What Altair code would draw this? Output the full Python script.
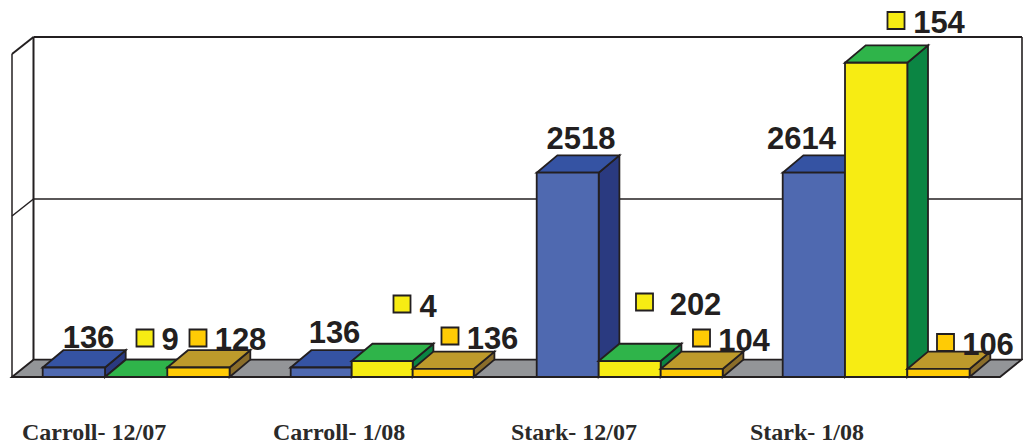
import altair as alt
import pandas as pd

# ---- chart content ----
groups = ["Carroll- 12/07", "Carroll- 1/08", "Stark- 12/07", "Stark- 1/08"]
series_names = ["blue", "yellow", "orange"]
# drawn bar heights (gridline = 1000 on the value axis)
blue_heights = [59, 59, 1269, 1269]
yellow_heights = [0, 99, 99, 1952]
orange_heights = [59, 50, 50, 50]
blue_labels = ["136", "136", "2518", "2614"]
yellow_labels = ["9", "4", "202", "154"]
orange_labels = ["128", "136", "104", "106"]

# ---- colours: front, top, side ----
palette = {
    "blue": ("#4f69b0", "#3553a3", "#2a3a80"),
    "yellow": ("#f7ec13", "#2fb44a", "#0b8543"),
    "orange": ("#ffcb05", "#bd9a2b", "#8a6d2a"),
}
INK = "#231f20"
FLOOR = "#939598"

# ---- layout ----
W, H = 1015, 436
STEP = 246.67                    # pixels per group unit
PX_PER_VALUE = 0.161
ZERO_PAGE_Y = 377


def ux(page_x):
    return (page_x - 8) / STEP


def uy(page_y):
    return (ZERO_PAGE_Y - page_y) / PX_PER_VALUE


group_left = [42.7, 290.7, 536.7, 782.7]
group_bar_w = [62.3, 61.0, 62.0, 62.3]
DEPTH_X = 20.7 / STEP
DEPTH_Y = 17.3 / PX_PER_VALUE

polys = []


def add(pid, fill, points):
    for x, y, y2 in points:
        polys.append(dict(pid=pid, fill=fill, x=x, y=y, y2=y2))


def add_flat(pid, fill, x0, x1, base, dx, dy):
    """Horizontal parallelogram, front edge x0..x1 at value base."""
    t = base + dy
    add(pid, fill, [(x0, base, base), (x0 + dx, t, base), (x1, t, base), (x1 + dx, t, t)])


# floor
add_flat("floor", FLOOR, ux(12), ux(1000), 0, ux(33.5) - ux(12), DEPTH_Y)

pid = 0
for s, heights in enumerate([blue_heights, yellow_heights, orange_heights]):
    front, top, side = palette[series_names[s]]
    for g, h in enumerate(heights):
        bar_w = group_bar_w[g] / STEP
        x0 = ux(group_left[g]) + s * bar_w
        x1 = x0 + bar_w
        # side
        add(f"p{pid:03d}a", side, [(x1, h, 0), (x1 + DEPTH_X, h + DEPTH_Y, DEPTH_Y)])
        # top
        add_flat(f"p{pid:03d}b", top, x0, x1, h, DEPTH_X, DEPTH_Y)
        # front
        if h > 0:
            add(f"p{pid:03d}c", front, [(x0, h, 0), (x1, h, 0)])
        pid += 1

poly_df = pd.DataFrame(polys)

# wall lines: x, y, x2, y2 (page pixels converted to chart units), width
wall = [
    (33.5, 37, 1022, 37, 2.2),
    (33.5, 37, 33.5, 360, 2.0),
    (1022, 37, 1022, 360, 1.6),
    (12, 54, 12, 377, 1.5),
    (12, 54, 33.5, 37, 2.0),
    (33.5, 199, 1022, 199, 1.6),
    (12, 216, 33.5, 199, 1.5),
]
wall_df = pd.DataFrame(
    [dict(x=ux(a), y=uy(b), x2=ux(c), y2=uy(d), w=e) for a, b, c, d, e in wall]
)

# value labels: text, centre x, baseline y (page pixels)
blue_pos = [(88.5, 348), (334.5, 343), (581, 149), (801.5, 149)]
yellow_pos = [(170, 350), (428, 317), (695.5, 315), (939, 33)]
orange_pos = [(240.5, 350), (492.5, 349), (744, 351), (988, 355)]
label_df = pd.DataFrame(
    [
        dict(t=t, x=ux(p[0]), y=uy(p[1]))
        for ts, ps in [
            (blue_labels, blue_pos),
            (yellow_labels, yellow_pos),
            (orange_labels, orange_pos),
        ]
        for t, p in zip(ts, ps)
    ]
)

# legend-key style swatches: centre x, centre y
yellow_keys = [(145, 338), (402, 304), (644.5, 302), (896, 20.5)]
orange_keys = [(198, 338), (450, 336), (701.5, 338), (945.5, 342.5)]
key_df = pd.DataFrame(
    [dict(x=ux(a), y=uy(b), fill=palette["yellow"][0]) for a, b in yellow_keys]
    + [dict(x=ux(a), y=uy(b), fill=palette["orange"][0]) for a, b in orange_keys]
)

# category labels: left x, baseline y
cat_x = [22, 273, 511, 750]
cat_df = pd.DataFrame([dict(t=t, x=ux(a), y=uy(440)) for t, a in zip(groups, cat_x)])

xs = alt.Scale(domain=[0, W / STEP], range=[0, W], nice=False, zero=False)
ys = alt.Scale(domain=[uy(8 + H), uy(8)], range=[H, 0], nice=False, zero=False)
X = alt.X("x:Q", scale=xs, axis=None)
Y = alt.Y("y:Q", scale=ys, axis=None)

walls = (
    alt.Chart(wall_df)
    .mark_rule(color=INK)
    .encode(X, Y, x2="x2:Q", y2="y2:Q", strokeWidth=alt.StrokeWidth("w:Q", scale=None))
)
faces = (
    alt.Chart(poly_df)
    .mark_area(stroke=INK, strokeWidth=1.8, opacity=1, interpolate="linear", orient="vertical")
    .encode(X, Y, y2="y2:Q", detail="pid:N", fill=alt.Fill("fill:N", scale=None))
)
keys = (
    alt.Chart(key_df)
    .mark_square(size=290, stroke=INK, strokeWidth=1.8, opacity=1, filled=True)
    .encode(X, Y, fill=alt.Fill("fill:N", scale=None))
)
value_text = (
    alt.Chart(label_df)
    .mark_text(font="Liberation Sans", fontWeight="bold", fontSize=31, color=INK,
               align="center", baseline="alphabetic")
    .encode(X, Y, text="t:N")
)
cat_text = (
    alt.Chart(cat_df)
    .mark_text(font="Liberation Serif", fontWeight="bold", fontSize=24, color="#2b2a29",
               align="left", baseline="alphabetic")
    .encode(X, Y, text="t:N")
)

chart = (
    alt.layer(walls, faces, keys, value_text, cat_text)
    .properties(width=W, height=H, padding=0, autosize="none", background="white")
    .configure_view(stroke=None)
)
chart.save("out.html", embed_options={"renderer": "svg", "actions": False})
